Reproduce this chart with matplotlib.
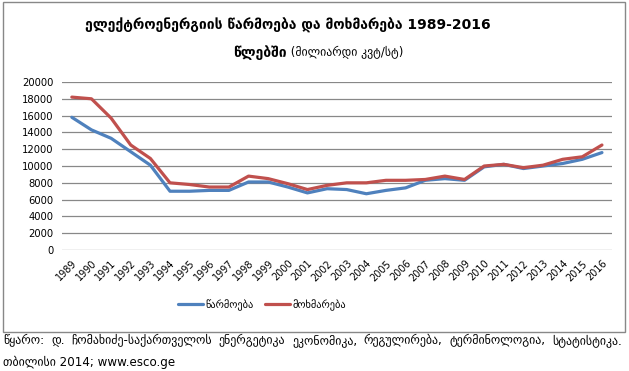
import matplotlib.pyplot as plt
from matplotlib.patches import Rectangle

years = [str(y) for y in range(1989, 2017)]
production = [15800, 14300, 13300, 11700, 10100, 7000, 7000, 7100, 7100, 8100,
              8100, 7500, 6800, 7300, 7200, 6700, 7100, 7400, 8300, 8500,
              8300, 9900, 10200, 9700, 10000, 10300, 10800, 11600]
consumption = [18200, 18000, 15700, 12500, 10900, 8000, 7800, 7500, 7500, 8800,
               8500, 7900, 7200, 7700, 8000, 8000, 8300, 8300, 8400, 8800,
               8400, 10000, 10200, 9800, 10100, 10800, 11100, 12500]
series_names = ['წარმოება', 'მოხმარება']
title1 = 'ელექტროენერგიის წარმოება და მოხმარება 1989-2016'
title2_bold = 'წლებში'
title2_unit = ' (მილიარდი კვტ/სტ)'
source1 = 'წყარო: დ. ჩომახიძე-საქართველოს ენერგეტიკა ეკონომიკა, რეგულირება, ტერმინოლოგია, სტატისტიკა.'
source2 = 'თბილისი 2014; www.esco.ge'

blue = '#4F81BD'
red = '#C0504D'

fig = plt.figure(figsize=(6.29, 3.71), dpi=100)
ax = fig.add_axes([0.0986, 0.326, 0.874, 0.453])

x = range(len(years))
ax.plot(x, production, color=blue, lw=2.3, label=series_names[0], solid_capstyle='round')
ax.plot(x, consumption, color=red, lw=2.3, label=series_names[1], solid_capstyle='round')

ax.set_xlim(-0.5, len(years) - 0.5)
ax.set_ylim(0, 20000)
ax.set_yticks(range(0, 20001, 2000))
ax.set_xticks(list(x))
ax.set_xticklabels(years, rotation=45, ha='right', rotation_mode='anchor', fontsize=7)
ax.tick_params(axis='y', labelsize=7.2, length=0, pad=6)
ax.tick_params(axis='x', length=0, pad=6)
ax.grid(axis='y', color='#888888', lw=0.9)
ax.set_axisbelow(True)
for s in ax.spines.values():
    s.set_visible(False)

# chart border
fig.patches.append(Rectangle((3 / 629, 1 - 332 / 371), 622 / 629, 330 / 371,
                             transform=fig.transFigure, fill=False,
                             edgecolor='#888888', lw=1))

fig.text(288 / 629, 1 - 25 / 371, title1, ha='center', va='center',
         fontsize=10, fontweight='bold')
fig.text(287 / 629, 1 - 53 / 371, title2_bold, ha='right', va='center',
         fontsize=10, fontweight='bold')
fig.text(287 / 629, 1 - 53 / 371, title2_unit, ha='left', va='center', fontsize=8.5)

fig.legend(loc='center', bbox_to_anchor=(262 / 629, 1 - 305 / 371), ncol=2,
           frameon=False, fontsize=7.5, handlelength=2.4, columnspacing=1.0,
           handletextpad=0.3)

# justified first source line
renderer = fig.canvas.get_renderer()
words = source1.split()
texts = [fig.text(0, 1 - 341 / 371, w, ha='left', va='center', fontsize=8.6) for w in words]
widths = [t.get_window_extent(renderer).width for t in texts]
left, right = 3, 622
gap = (right - left - sum(widths)) / (len(words) - 1)
pos = left
for t, w in zip(texts, widths):
    t.set_x(pos / 629)
    pos += w + gap
fig.text(3 / 629, 1 - 362 / 371, source2, ha='left', va='center', fontsize=8.6)

fig.savefig('out.png', dpi=100)
